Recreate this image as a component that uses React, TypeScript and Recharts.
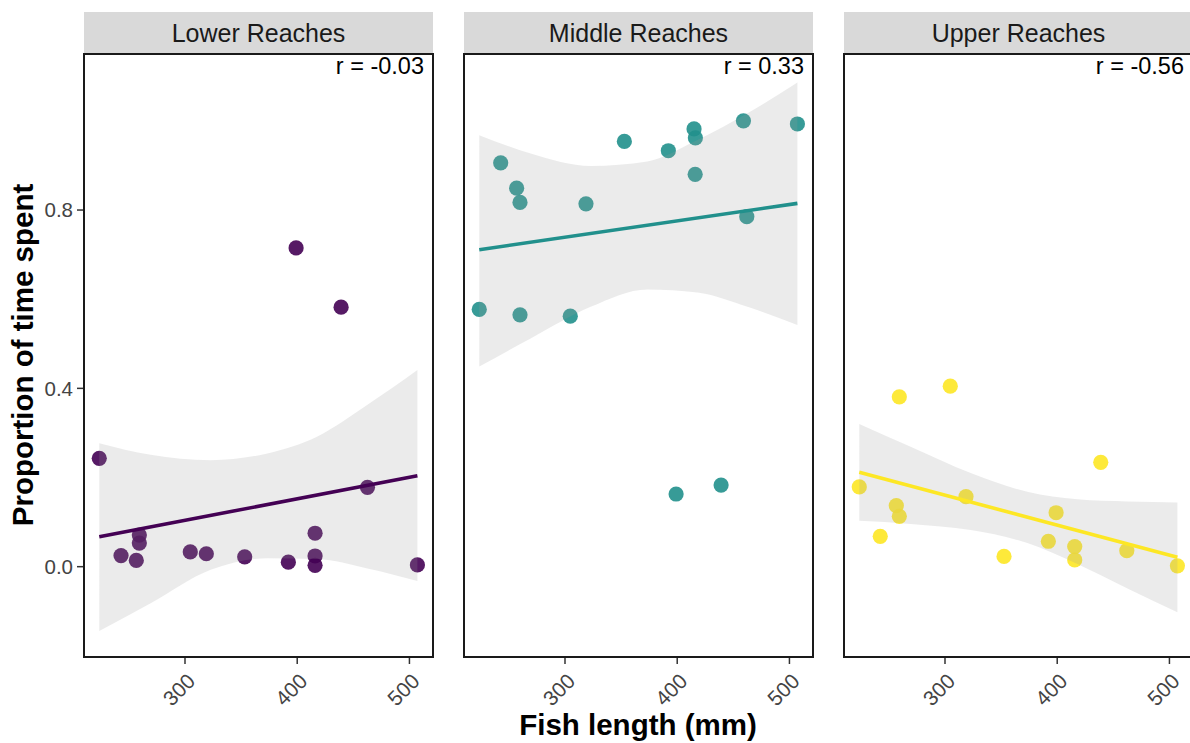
import React from 'react';
import { ComposedChart, Scatter, Area, Line, XAxis, YAxis } from 'recharts';

// Facet labels, colours and correlation coefficients
const reaches = ['Lower Reaches', 'Middle Reaches', 'Upper Reaches'];
const reachColors = ['#440154', '#21908C', '#FDE725'];
const correlations = ['-0.03', '0.33', '-0.56'];

// Observations: fish length (mm) and proportion of time spent
const lowerLength = [223.6, 243.0, 256.6, 259.3, 259.3, 304.7, 319.0, 353.2, 392.1, 399.0, 415.9, 415.9, 415.9, 439.1, 462.6, 507.1];
const lowerProportion = [0.243, 0.025, 0.014, 0.071, 0.053, 0.033, 0.029, 0.022, 0.010, 0.715, 0.075, 0.024, 0.003, 0.582, 0.178, 0.004];

const middleLength = [223.6, 242.7, 256.9, 259.9, 259.9, 304.7, 318.7, 352.9, 392.1, 399.0, 415.0, 416.2, 416.0, 439.1, 459.0, 462.0, 507.1];
const middleProportion = [0.577, 0.906, 0.849, 0.817, 0.565, 0.562, 0.814, 0.954, 0.933, 0.163, 0.982, 0.962, 0.880, 0.183, 1.0, 0.785, 0.993];

const upperLength = [223.6, 242.3, 256.6, 259.3, 259.3, 304.7, 318.7, 352.6, 392.1, 399.0, 415.6, 415.6, 438.8, 462.0, 507.1];
const upperProportion = [0.179, 0.068, 0.137, 0.381, 0.113, 0.405, 0.157, 0.023, 0.057, 0.121, 0.045, 0.015, 0.234, 0.036, 0.002];

// Linear fit confidence band, sampled along fish length
const bandLength = [223.6, 269.4, 322.9, 373.4, 418.0, 462.6, 507.1];
const lowerBandLow = [-0.144, -0.082, -0.007, 0.019, 0.017, -0.004, -0.032];
const lowerBandHigh = [0.277, 0.251, 0.239, 0.254, 0.292, 0.363, 0.441];
const middleBandLow = [0.449, 0.512, 0.583, 0.622, 0.615, 0.583, 0.542];
const middleBandHigh = [0.968, 0.927, 0.899, 0.909, 0.957, 1.017, 1.086];
const upperBandLow = [0.103, 0.096, 0.082, 0.053, 0.006, -0.049, -0.102];
const upperBandHigh = [0.320, 0.269, 0.210, 0.168, 0.151, 0.146, 0.144];

// Fitted line values at the first and last band length
const lowerFit = [0.067, 0.204];
const middleFit = [0.711, 0.815];
const upperFit = [0.212, 0.021];

const xTicks = [300, 400, 500];
const yTicks = [0, 0.4, 0.8];
const xDomain: [number, number] = [210, 521];
const yDomain: [number, number] = [-0.2026, 1.15];

const FONT = '"Liberation Sans", Arial, Helvetica, sans-serif';
const PANEL_LEFT = [84, 464, 844];
const PANEL_TOP = 54;
const PANEL_W = 349;
const PANEL_H = 603;
const CHART_W = 440;
const CHART_H = 743;
const AXIS_H = CHART_H - PANEL_TOP - PANEL_H;
const RIGHT_PAD = CHART_W - 84 - PANEL_W;

const makePoints = (len: number[], prop: number[]) => len.map((l, i) => ({ len: l, prop: prop[i] }));
const makeBand = (lo: number[], hi: number[], fit: number[]) =>
  bandLength.map((l, i) => ({
    len: l,
    band: [lo[i], hi[i]],
    fit: i === 0 ? fit[0] : i === bandLength.length - 1 ? fit[1] : undefined,
  }));

const panels = [
  { points: makePoints(lowerLength, lowerProportion), band: makeBand(lowerBandLow, lowerBandHigh, lowerFit) },
  { points: makePoints(middleLength, middleProportion), band: makeBand(middleBandLow, middleBandHigh, middleFit) },
  { points: makePoints(upperLength, upperProportion), band: makeBand(upperBandLow, upperBandHigh, upperFit) },
];

const SlantTick = (props: any) => {
  const { x, y, payload } = props;
  const ax = x + 11.5;
  const ay = y + 16.5;
  return (
    <text x={ax} y={ay} transform={`rotate(-45 ${ax} ${ay})`} textAnchor="end" fontSize={21} fill="#444444" fontFamily={FONT}>
      {payload.value}
    </text>
  );
};

// Axes and observed points
const PointsPanel = ({ index }: { index: number }) => {
  const { points } = panels[index];
  const color = reachColors[index];
  const showY = index === 0;
  return (
    <ComposedChart
      width={CHART_W}
      height={CHART_H}
      data={points}
      margin={{ top: PANEL_TOP, right: RIGHT_PAD, bottom: 0, left: showY ? 0 : 84 }}
    >
      <XAxis
        type="number"
        dataKey="len"
        domain={xDomain}
        allowDataOverflow
        ticks={xTicks}
        axisLine={false}
        tickLine={{ stroke: '#333333', strokeWidth: 1.5 }}
        tickSize={7}
        height={AXIS_H}
        tick={<SlantTick />}
        interval={0}
      />
      <YAxis
        type="number"
        domain={yDomain}
        allowDataOverflow
        ticks={yTicks}
        hide={!showY}
        width={84}
        axisLine={false}
        tickLine={{ stroke: '#333333', strokeWidth: 1.5 }}
        tickSize={7}
        tickMargin={4}
        tickFormatter={(v: number) => v.toFixed(1)}
        tick={{ fontSize: 20.5, fill: '#444444', fontFamily: FONT }}
      />
      <Scatter
        data={points}
        dataKey="prop"
        isAnimationActive={false}
        shape={(p: any) => <circle cx={p.cx} cy={p.cy} r={7.6} fill={color} fillOpacity={0.9} />}
      />
    </ComposedChart>
  );
};

// Confidence ribbon and fitted line, layered above the points
const FitPanel = ({ index }: { index: number }) => {
  const { band } = panels[index];
  const color = reachColors[index];
  return (
    <ComposedChart
      width={CHART_W}
      height={CHART_H}
      data={band}
      margin={{ top: PANEL_TOP, right: RIGHT_PAD, bottom: AXIS_H, left: 84 }}
    >
      <XAxis type="number" dataKey="len" domain={xDomain} allowDataOverflow hide />
      <YAxis type="number" domain={yDomain} allowDataOverflow hide />
      <Area
        dataKey="band"
        type="monotone"
        fill="#999999"
        fillOpacity={0.2}
        stroke="none"
        isAnimationActive={false}
        dot={false}
        activeDot={false}
      />
      <Line
        dataKey="fit"
        type="linear"
        stroke={color}
        strokeWidth={3.6}
        dot={false}
        activeDot={false}
        connectNulls
        isAnimationActive={false}
      />
    </ComposedChart>
  );
};

export default function App() {
  return (
    <div
      style={{
        position: 'fixed',
        left: 0,
        top: 0,
        width: 1190,
        height: 743,
        overflow: 'hidden',
        background: '#ffffff',
        fontFamily: FONT,
      }}
    >
      {reaches.map((_, i) => (
        <div key={`p${i}`} style={{ position: 'absolute', left: PANEL_LEFT[i] - 84, top: 0 }}>
          <PointsPanel index={i} />
        </div>
      ))}
      {reaches.map((_, i) => (
        <div key={`f${i}`} style={{ position: 'absolute', left: PANEL_LEFT[i] - 84, top: 0, pointerEvents: 'none' }}>
          <FitPanel index={i} />
        </div>
      ))}
      <svg width={1190} height={743} style={{ position: 'absolute', left: 0, top: 0, pointerEvents: 'none' }}>
        {reaches.map((name, i) => (
          <g key={name}>
            <rect x={PANEL_LEFT[i]} y={12} width={PANEL_W} height={41} fill="#d9d9d9" />
            <text x={PANEL_LEFT[i] + PANEL_W / 2} y={41.5} textAnchor="middle" fontSize={25} fill="#1a1a1a" fontFamily={FONT}>
              {name}
            </text>
            <rect x={PANEL_LEFT[i]} y={PANEL_TOP} width={PANEL_W} height={PANEL_H} fill="none" stroke="#1a1a1a" strokeWidth={2} />
            <text x={PANEL_LEFT[i] + PANEL_W - 9} y={74} textAnchor="end" fontSize={23.5} fill="#000000" fontFamily={FONT}>
              {`r = ${correlations[i]}`}
            </text>
          </g>
        ))}
        <text
          x={33.3}
          y={355}
          transform="rotate(-90 33.3 355)"
          textAnchor="middle"
          fontSize={29.5}
          fontWeight="bold"
          fill="#000000"
          fontFamily={FONT}
        >
          Proportion of time spent
        </text>
        <text x={638} y={735} textAnchor="middle" fontSize={29.5} fontWeight="bold" fill="#000000" fontFamily={FONT}>
          Fish length (mm)
        </text>
      </svg>
    </div>
  );
}
